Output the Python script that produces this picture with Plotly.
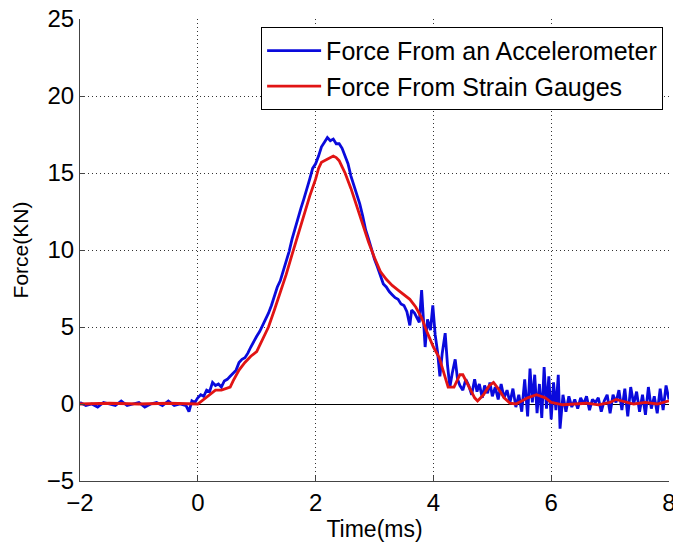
import plotly.graph_objects as go

# ---- data ----
accel_t = [-2.0,-1.9,-1.8,-1.7,-1.6,-1.5,-1.4,-1.3,-1.2,-1.1,-1.0,-0.9,-0.8,-0.7,-0.6,-0.5,-0.4,-0.3,
           -0.2,-0.15,-0.1,-0.05,0.0,0.05,0.1,0.15,0.2,0.25,0.3,0.35,0.4,0.45,0.5,0.55,0.6,0.65,0.7,0.75,
           0.8,0.85,0.9,0.95,1.0,1.05,1.1,1.15,1.2,1.25,1.3,1.35,1.4,1.45,1.5,1.55,1.6,1.65,1.7,1.75,
           1.8,1.85,1.9,1.95,2.0,2.05,2.1,2.15,2.2,2.25,2.3,2.35,2.4,2.45,2.5,2.55,2.6,2.65,2.7,2.75,
           2.8,2.85,2.9,2.95,3.0,3.05,3.1,3.15,3.2,3.25,3.3,3.35,3.4,3.45,3.5,3.55,3.6,3.63,3.68,3.72,
           3.76,3.8,3.83,3.86,3.9,3.95,3.99,4.03,4.07,4.11,4.15,4.2,4.24,4.28,4.32,4.37,4.41,4.45,4.5,
           4.55,4.6,4.65,4.7,4.74,4.78,4.83,4.87,4.92,4.96,5.0,5.05,5.1,5.15,5.2,5.25,5.3,5.35,5.4,5.45,
           5.5,5.55,5.6,5.64,5.68,5.72,5.76,5.8,5.84,5.88,5.92,5.96,6.0,6.04,6.08,6.12,6.15,6.2,6.25,
           6.3,6.35,6.4,6.45,6.5,6.55,6.6,6.65,6.7,6.75,6.8,6.85,6.9,6.95,7.0,7.05,7.1,7.15,7.2,7.25,
           7.3,7.35,7.4,7.45,7.5,7.55,7.6,7.65,7.7,7.75,7.8,7.85,7.9,7.95,8.0]
accel_f = [0.1,-0.1,0.0,-0.2,0.1,0.0,-0.1,0.2,-0.1,0.0,0.1,-0.2,0.0,0.1,-0.1,0.2,-0.1,0.0,
           -0.1,-0.5,0.2,0.1,0.4,0.6,0.5,0.9,0.8,1.4,1.2,1.3,1.1,1.5,1.6,1.8,2.0,2.2,2.7,2.9,
           3.0,3.3,3.7,4.1,4.4,4.7,5.1,5.4,5.9,6.4,7.0,7.6,8.0,8.6,9.3,9.9,10.7,11.4,12.1,12.7,
           13.3,13.9,14.6,15.3,15.6,16.1,16.7,17.0,17.3,17.1,17.2,16.9,16.9,16.6,16.1,15.6,14.8,14.2,13.6,13.0,
           12.2,11.3,10.7,10.0,9.4,8.9,8.4,7.8,7.6,7.3,7.1,6.9,6.8,6.5,6.4,6.0,5.1,6.1,5.9,5.6,
           5.3,7.4,5.2,3.7,5.5,4.8,6.4,4.5,3.4,1.8,3.3,4.6,2.5,1.1,2.0,2.9,1.6,1.2,0.9,
           1.6,1.2,0.6,1.6,0.8,1.3,0.4,1.2,0.7,1.4,0.5,1.1,0.3,1.3,0.4,0.9,0.1,1.0,-0.2,0.6,
           -0.5,1.6,-0.8,2.3,0.1,1.9,-0.6,1.3,-0.9,2.4,-0.3,1.8,-1.0,1.4,-0.4,1.9,-1.6,0.6,-0.5,
           0.5,-0.2,0.3,-0.3,0.4,0.0,0.5,-0.4,0.3,0.1,0.4,-0.5,0.2,0.6,-0.6,0.6,0.1,0.9,-0.4,1.0,
           -0.8,1.1,0.0,0.8,-0.5,0.6,-0.7,1.1,-0.3,0.5,-0.6,1.0,-0.4,1.2,0.3]

strain_t = [-2.0,-1.5,-1.0,-0.5,0.0,0.1,0.2,0.3,0.4,0.5,0.55,0.6,0.7,0.8,0.9,1.0,1.1,1.2,1.3,1.4,
            1.5,1.6,1.7,1.8,1.9,2.0,2.05,2.1,2.2,2.3,2.35,2.4,2.45,2.5,2.6,2.7,2.8,2.9,3.0,3.1,
            3.2,3.3,3.4,3.5,3.6,3.7,3.8,3.9,4.0,4.1,4.2,4.25,4.35,4.45,4.5,4.6,4.7,4.75,4.85,4.95,
            5.02,5.1,5.2,5.3,5.4,5.5,5.6,5.75,5.9,6.0,6.1,6.2,6.4,6.6,6.8,7.0,7.1,7.2,7.4,7.6,
            7.8,8.0]
strain_f = [0.0,0.05,0.0,0.05,0.0,0.3,0.6,0.9,0.9,1.0,1.1,1.5,2.2,2.7,3.1,3.4,4.2,5.0,6.1,7.2,
            8.4,9.7,11.0,12.3,13.5,14.6,15.3,15.7,15.9,16.1,16.0,15.8,15.4,15.0,14.0,12.8,11.6,10.5,9.5,8.6,
            8.1,7.7,7.4,7.1,6.8,6.3,5.6,4.6,3.7,3.0,1.7,1.1,1.1,1.9,1.9,1.1,0.4,0.2,0.6,1.2,
            1.4,1.0,0.4,0.05,0.0,0.2,0.4,0.6,0.4,0.1,0.0,-0.05,0.0,0.05,-0.05,0.1,0.3,0.2,0.0,0.1,
            0.0,0.2]

x_ticks = [-2, 0, 2, 4, 6, 8]
y_ticks = [-5, 0, 5, 10, 15, 20, 25]

FONT = "Liberation Sans, Arial, sans-serif"

fig = go.Figure()
fig.add_trace(go.Scatter(x=accel_t, y=accel_f, mode="lines", name="Force From an Accelerometer",
                         line=dict(color="rgb(10,10,220)", width=2.8)))
fig.add_trace(go.Scatter(x=strain_t, y=strain_f, mode="lines", name="Force From Strain Gauges",
                         line=dict(color="rgb(225,20,20)", width=2.8)))

axis_common = dict(
    showgrid=True, gridcolor="#333", griddash="1px,3px", gridwidth=1,
    showline=True, linecolor="#444", linewidth=1, mirror=False,
    ticks="inside", ticklen=5, tickcolor="#444",
    tickfont=dict(family=FONT, size=24, color="black"),
    ticklabeloverflow="allow", automargin=False,
)
fig.update_xaxes(range=[-2, 8], tickvals=x_ticks, zeroline=False,
                 title=dict(text="Time(ms)", font=dict(family=FONT, size=23, color="black"), standoff=6),
                 **axis_common)
fig.update_yaxes(range=[-5, 25], tickvals=y_ticks, zeroline=True, zerolinecolor="black", zerolinewidth=1,
                 title=dict(text="Force(KN)", font=dict(family=FONT, size=21, color="black"), standoff=12),
                 **axis_common)

fig.update_layout(
    width=673, height=544,
    margin=dict(l=80, r=4, t=19, b=63, autoexpand=False),
    plot_bgcolor="white", paper_bgcolor="white",
    font=dict(family=FONT, size=24, color="black"),
    legend=dict(x=0.99, y=0.983, xanchor="right", yanchor="top",
                bgcolor="white", bordercolor="black", borderwidth=1,
                font=dict(family=FONT, size=25, color="black"),
                itemwidth=54, tracegroupgap=0),
    showlegend=True,
)

fig.write_html("out.html")
